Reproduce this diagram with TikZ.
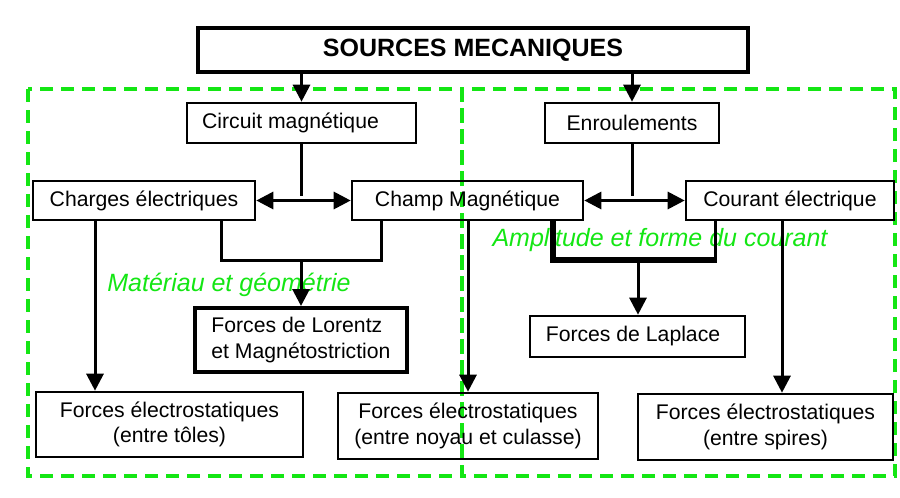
\documentclass[tikz,border=0pt]{standalone}
\usepackage{fontspec}
\setmainfont{Liberation Sans}
\usetikzlibrary{arrows.meta}
\definecolor{grn}{RGB}{20,230,20}
\begin{document}
\begin{tikzpicture}[x=0.5pt,y=-0.5pt,
  box/.style={draw,line width=1.3pt,inner sep=0pt,align=center,
    font=\fontsize{10.6}{12.7}\selectfont},
  thickbox/.style={box,line width=2pt},
  conn/.style={line width=1.5pt},
  arr/.style={conn,-{Triangle[width=8.5pt,length=8.5pt]}},
  dbl/.style={conn,{Triangle[width=8.5pt,length=8.5pt]}-{Triangle[width=8.5pt,length=8.5pt]}},
  heavy/.style={line width=3pt},
  zone/.style={draw=grn,line width=2pt,dash pattern=on 6.5pt off 4pt},
  glabel/.style={text=grn,font=\fontsize{12.5}{15}\selectfont\itshape,inner sep=0pt}]
\useasboundingbox (0,0) rectangle (900,498);

% green zones
\draw[zone] (28,89) rectangle (462,476);
\draw[zone] (462,89) rectangle (895,476);

% green labels
\node[glabel] (amp) at (660,240) {Amplitude et forme du courant};
\node[glabel] (mat) at (229,285) {Matériau et géométrie};

% boxes
\node[thickbox,minimum width=275pt,minimum height=22pt,
  font=\fontsize{12.5}{15}\selectfont\bfseries] (src) at (473,50) {SOURCES MECANIQUES};
\node[box,minimum width=114.5pt,minimum height=20pt] (cm) at (301.5,123) {Circuit magnétique\kern11pt};
\node[box,minimum width=87pt,minimum height=20pt] (enr) at (632,123) {Enroulements};
\node[box,minimum width=111pt,minimum height=19.5pt] (ch) at (144,200.5) {Charges électriques};
\node[box,minimum width=115.5pt,minimum height=19.5pt] (chm) at (467.5,200.5) {Champ Magnétique};
\node[box,minimum width=104pt,minimum height=19.5pt] (cour) at (790,200.5) {Courant électrique};
\node[thickbox,minimum width=106pt,minimum height=32pt,align=left] (lor) at (301,340)
  {Forces de Lorentz\\et Magnétostriction};
\node[box,minimum width=107.5pt,minimum height=20.5pt] (lap) at (637.5,336.5) {Forces de Laplace\kern4.5pt};
\node[box,minimum width=133.5pt,minimum height=32.5pt] (tol) at (169.5,424.5)
  {Forces électrostatiques\\(entre tôles)};
\node[box,minimum width=130pt,minimum height=33pt] (noy) at (468,426)
  {Forces électrostatiques\\(entre noyau et culasse)};
\node[box,minimum width=127.5pt,minimum height=33pt] (spi) at (765.5,427)
  {Forces électrostatiques\\(entre spires)};

% connectors from sources
\draw[arr] (src.south -| cm.north) -- (cm.north);
\draw[arr] (src.south -| enr.north) -- (enr.north);

% circuit magnetique -> charges / champ
\draw[conn] (cm.south) -- (cm.south |- 0,196);
\draw[dbl] (ch.east) -- (chm.west);
% enroulements -> champ / courant
\draw[conn] (enr.south) -- (enr.south |- 0,196);
\draw[dbl] (chm.east) -- (cour.west);

% charges -> forces entre toles
\draw[arr] (ch.south -| 95,0) -- (tol.north -| 95,0);
% charges + champ -> Lorentz
\coordinate (jl) at (lor.north |- 0,260);
\draw[conn] (ch.south -| 221,0) |- (jl) -| (chm.south -| 381,0);
\draw[arr] (jl) -- (lor.north);
% champ -> noyau
\draw[arr] (chm.south -| 468,0) -- (noy.north -| 468,0);
% champ + courant -> Laplace
\coordinate (jr) at (638,260);
\draw[heavy] (chm.south -| 553,0) -- (553,260) -- (716.5,260);
\draw[conn] (cour.south -| 715,0) -- (715,260);
\draw[arr] (jr) -- (lap.north -| jr);
% courant -> spires
\draw[arr] (cour.south -| 782,0) -- (spi.north -| 782,0);
\end{tikzpicture}
\end{document}
